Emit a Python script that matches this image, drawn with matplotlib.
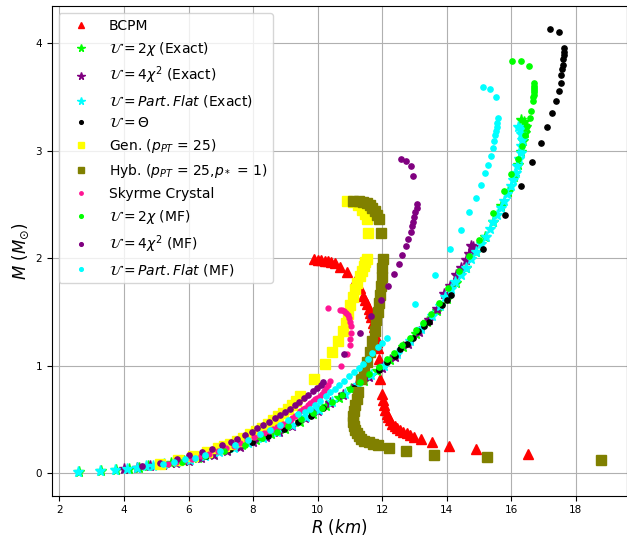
import matplotlib
matplotlib.use("Agg")
from matplotlib import pyplot as plt

# BCPM
bcpm_R = [16.52, 14.90, 14.07, 13.56, 13.22, 12.99, 12.86, 12.76, 12.66, 12.56,
          12.47, 12.39, 12.32, 12.25, 12.19, 12.14, 12.09, 12.05, 12.02, 11.99,
          11.95, 11.90, 11.87, 11.84, 11.81, 11.78, 11.75, 11.71, 11.67, 11.63,
          11.58, 11.53, 11.47, 11.41, 11.30, 11.15, 10.90, 10.69, 10.54, 10.43,
          10.33, 10.23, 10.12, 10.02, 9.89]
bcpm_M = [0.18, 0.22, 0.25, 0.29, 0.32, 0.34, 0.355, 0.37, 0.385, 0.40,
          0.42, 0.44, 0.46, 0.49, 0.52, 0.55, 0.59, 0.63, 0.68, 0.74,
          0.88, 1.06, 1.16, 1.22, 1.27, 1.32, 1.36, 1.40, 1.45, 1.49,
          1.53, 1.57, 1.61, 1.65, 1.72, 1.79, 1.87, 1.92, 1.95, 1.96,
          1.97, 1.975, 1.98, 1.98, 1.99]

# U = 2chi (Exact)
ex2_R = [2.60, 3.30, 3.75, 4.15, 4.45, 4.75, 5.05, 5.45, 5.85, 6.30,
         6.75, 7.20, 7.65, 8.10, 8.55, 9.00, 9.45, 9.85, 10.25, 10.65,
         11.05, 11.45, 11.85, 12.25, 12.65, 13.05, 13.40, 13.70, 14.00, 14.30,
         14.60, 14.90, 15.20, 15.45, 15.70, 15.90, 16.08, 16.20, 16.30, 16.38,
         16.42, 16.45, 16.40, 16.32]
ex2_M = [0.01, 0.02, 0.03, 0.04, 0.05, 0.065, 0.075, 0.09, 0.11, 0.14,
         0.175, 0.215, 0.26, 0.305, 0.36, 0.41, 0.48, 0.55, 0.62, 0.70,
         0.78, 0.86, 0.95, 1.05, 1.17, 1.29, 1.41, 1.51, 1.62, 1.77,
         1.91, 2.06, 2.20, 2.34, 2.48, 2.61, 2.75, 2.87, 2.99, 3.09,
         3.16, 3.22, 3.27, 3.28]

# U = 4chi^2 (Exact)
ex4_R = [4.00, 4.40, 4.80, 5.20, 5.60, 6.00, 6.40, 6.80, 7.20, 7.60,
         8.00, 8.40, 8.80, 9.20, 9.60, 10.00, 10.40, 10.80, 11.20, 11.60,
         12.00, 12.40, 12.80, 13.15, 13.45, 13.70, 13.91, 14.10, 14.30, 14.46,
         14.59, 14.69, 14.77, 14.82]
ex4_M = [0.035, 0.05, 0.065, 0.08, 0.095, 0.115, 0.14, 0.17, 0.205, 0.245,
         0.29, 0.335, 0.385, 0.44, 0.51, 0.575, 0.65, 0.73, 0.81, 0.89,
         0.98, 1.08, 1.20, 1.31, 1.42, 1.53, 1.67, 1.74, 1.84, 1.91,
         1.98, 2.04, 2.115, 2.10]

# U = Part.Flat (Exact)
expf_R = [2.57, 3.26, 3.72, 4.10, 4.41, 4.68, 4.91, 5.25, 5.65, 6.05,
          6.50, 6.95, 7.40, 7.85, 8.30, 8.75, 9.20, 9.65, 10.05, 10.45,
          10.85, 11.25, 11.65, 12.05, 12.45, 12.85, 13.20, 13.55, 13.80, 13.95,
          14.12, 14.27, 14.44, 14.59, 14.75, 14.90, 15.06, 15.21, 15.33, 15.44,
          15.56, 15.68, 15.78, 15.88, 15.98, 16.06, 16.14, 16.19, 16.24, 16.29,
          16.32, 16.35, 16.32, 16.28, 16.22]
expf_M = [0.01, 0.02, 0.03, 0.04, 0.05, 0.065, 0.07, 0.085, 0.10, 0.12,
          0.155, 0.195, 0.235, 0.28, 0.33, 0.385, 0.445, 0.52, 0.585, 0.66,
          0.74, 0.82, 0.91, 1.00, 1.11, 1.23, 1.34, 1.46, 1.55, 1.64,
          1.71, 1.775, 1.84, 1.91, 1.99, 2.06, 2.13, 2.20, 2.27, 2.34,
          2.40, 2.47, 2.53, 2.60, 2.67, 2.73, 2.79, 2.86, 2.92, 2.98,
          3.04, 3.10, 3.15, 3.20, 3.22]

# U = Theta
th_R = [5.79, 6.55, 7.28, 7.96, 8.47, 8.96, 9.40, 9.81, 10.17, 10.77,
        11.12, 11.41, 11.91, 12.15, 12.39, 12.57, 12.76, 12.96, 13.11, 13.29,
        13.46, 13.87, 14.00, 14.13, 15.13, 15.82, 16.29, 16.66, 16.92, 17.12,
        17.28, 17.38, 17.47, 17.53, 17.56, 17.59, 17.61, 17.62, 17.63, 17.64,
        17.64, 17.47, 17.20]
th_M = [0.117, 0.16, 0.226, 0.288, 0.344, 0.41, 0.475, 0.535, 0.605, 0.73,
        0.79, 0.86, 0.96, 1.03, 1.09, 1.155, 1.20, 1.26, 1.32, 1.37,
        1.41, 1.56, 1.61, 1.66, 2.08, 2.40, 2.67, 2.89, 3.07, 3.22,
        3.35, 3.46, 3.55, 3.63, 3.70, 3.76, 3.80, 3.85, 3.89, 3.92,
        3.95, 4.10, 4.13]

# Gen. (p_PT = 25)
gen_R = [5.12, 5.68, 6.15, 6.56, 6.90, 7.10, 7.30, 7.50, 7.70, 7.90,
         8.10, 8.28, 8.45, 8.62, 8.78, 8.93, 9.07, 9.20, 9.32, 9.45,
         9.90, 10.23, 10.46, 10.64, 10.79, 10.88, 10.95, 11.02, 11.09, 11.16,
         11.23, 11.30, 11.37, 11.43, 11.48, 11.52, 11.57, 11.52, 11.46, 11.38,
         11.25, 11.10, 10.90]
gen_M = [0.085, 0.125, 0.16, 0.195, 0.23, 0.25, 0.275, 0.30, 0.33, 0.36,
         0.39, 0.42, 0.46, 0.49, 0.53, 0.56, 0.60, 0.63, 0.67, 0.72,
         0.875, 1.015, 1.13, 1.23, 1.325, 1.40, 1.48, 1.56, 1.64, 1.71,
         1.77, 1.83, 1.88, 1.93, 1.96, 1.99, 2.23, 2.36, 2.41, 2.45,
         2.49, 2.52, 2.53]

# Hyb. (p_PT = 25, p* = 1)
hyb_R = [18.79, 15.25, 13.61, 12.73, 12.21, 11.88, 11.72, 11.58, 11.45, 11.35,
         11.27, 11.21, 11.16, 11.12, 11.10, 11.10, 11.12, 11.16, 11.21, 11.26,
         11.36, 11.44, 11.53, 11.62, 11.70, 11.77, 11.82, 11.86, 11.90, 11.93,
         11.96, 11.99, 12.01, 12.03, 11.98, 11.90, 11.83, 11.77, 11.70, 11.62,
         11.52, 11.41, 11.28, 11.10]
hyb_M = [0.124, 0.149, 0.173, 0.205, 0.232, 0.257, 0.27, 0.285, 0.30, 0.32,
         0.345, 0.37, 0.40, 0.44, 0.48, 0.53, 0.58, 0.63, 0.69, 0.75,
         0.875, 0.95, 1.03, 1.125, 1.23, 1.325, 1.42, 1.50, 1.58, 1.66,
         1.74, 1.82, 1.91, 1.99, 2.23, 2.36, 2.40, 2.44, 2.47, 2.49,
         2.51, 2.52, 2.53, 2.53]

# Skyrme Crystal
sky_R = [5.37, 5.60, 5.85, 6.10, 6.40, 6.64, 6.90, 7.15, 7.40, 7.60,
         7.80, 8.04, 8.20, 8.35, 8.50, 8.62, 8.73, 8.84, 8.94, 9.04,
         9.13, 9.22, 9.30, 9.38, 9.46, 9.54, 9.62, 9.70, 9.78, 9.85,
         9.92, 9.99, 10.06, 10.13, 10.20, 10.27, 10.33, 10.38, 10.72, 10.90,
         11.00, 11.02, 11.05, 11.05, 11.02, 10.98, 10.93, 10.87, 10.81, 10.75,
         10.69, 10.33]
sky_M = [0.085, 0.10, 0.115, 0.135, 0.16, 0.18, 0.205, 0.23, 0.255, 0.28,
         0.305, 0.335, 0.355, 0.375, 0.395, 0.41, 0.425, 0.44, 0.455, 0.47,
         0.49, 0.51, 0.53, 0.55, 0.575, 0.595, 0.61, 0.63, 0.65, 0.67,
         0.685, 0.70, 0.72, 0.74, 0.765, 0.79, 0.82, 0.86, 1.00, 1.11,
         1.19, 1.25, 1.30, 1.37, 1.41, 1.44, 1.47, 1.49, 1.505, 1.515,
         1.52, 1.54]

# U = 2chi (MF)
mf2_R = [5.79, 6.51, 7.10, 7.75, 8.27, 8.73, 9.09, 9.50, 9.86, 10.15,
         10.46, 10.75, 11.00, 11.30, 11.60, 11.90, 12.15, 12.37, 12.62, 12.85,
         13.05, 13.27, 13.50, 13.75, 14.05, 14.38, 14.70, 15.00, 15.44, 15.77,
         16.00, 16.21, 16.33, 16.42, 16.49, 16.57, 16.62, 16.67, 16.69, 16.70,
         16.71, 16.71, 16.72, 16.72, 16.72, 16.54, 16.29, 16.04]
mf2_M = [0.10, 0.155, 0.21, 0.265, 0.325, 0.385, 0.44, 0.50, 0.56, 0.61,
         0.665, 0.725, 0.785, 0.85, 0.92, 0.99, 1.06, 1.12, 1.19, 1.26,
         1.33, 1.40, 1.48, 1.58, 1.72, 1.88, 2.02, 2.17, 2.42, 2.62,
         2.78, 2.92, 3.04, 3.14, 3.23, 3.30, 3.37, 3.46, 3.50, 3.52,
         3.54, 3.56, 3.58, 3.60, 3.63, 3.79, 3.83, 3.83]

# U = 4chi^2 (MF)
mf4_R = [4.55, 5.12, 5.63, 6.02, 6.41, 6.72, 7.03, 7.31, 7.51, 7.75,
         7.96, 8.13, 8.32, 8.50, 8.68, 8.83, 8.99, 9.14, 9.30, 9.43,
         9.58, 9.71, 9.85, 9.97, 10.10, 10.17, 10.82, 11.31, 11.67, 11.98,
         12.19, 12.37, 12.52, 12.63, 12.73, 12.81, 12.88, 12.93, 12.96, 12.99,
         13.03, 13.07, 13.08, 12.97, 12.88, 12.73, 12.58]
mf4_M = [0.065, 0.096, 0.133, 0.164, 0.195, 0.226, 0.257, 0.288, 0.319, 0.356,
         0.387, 0.418, 0.449, 0.48, 0.51, 0.54, 0.57, 0.60, 0.635, 0.665,
         0.70, 0.73, 0.76, 0.79, 0.82, 0.845, 1.11, 1.30, 1.465, 1.61,
         1.74, 1.85, 1.945, 2.03, 2.11, 2.18, 2.24, 2.295, 2.34, 2.385,
         2.425, 2.465, 2.50, 2.76, 2.86, 2.90, 2.92]

# U = Part.Flat (MF)
mfpf_R = [5.22, 5.55, 5.89, 6.20, 6.51, 6.97, 7.44, 7.85, 8.21, 8.52,
          8.83, 9.09, 9.40, 9.61, 9.76, 9.92, 10.09, 10.26, 10.40, 10.54,
          10.67, 10.82, 10.98, 11.12, 11.28, 11.41, 11.57, 11.70, 11.86, 12.01,
          12.16, 13.01, 13.63, 14.10, 14.44, 14.70, 14.90, 15.06, 15.19, 15.29,
          15.37, 15.44, 15.47, 15.51, 15.54, 15.56, 15.57, 15.59, 15.52, 15.33,
          15.13]
mfpf_M = [0.086, 0.105, 0.13, 0.145, 0.164, 0.21, 0.263, 0.31, 0.365, 0.405,
          0.45, 0.495, 0.55, 0.565, 0.60, 0.635, 0.675, 0.715, 0.75, 0.78,
          0.82, 0.86, 0.90, 0.94, 0.975, 1.015, 1.06, 1.12, 1.17, 1.21,
          1.255, 1.575, 1.84, 2.08, 2.26, 2.43, 2.56, 2.68, 2.79, 2.87,
          2.95, 3.02, 3.09, 3.14, 3.18, 3.22, 3.26, 3.30, 3.50, 3.57,
          3.59]

fig = plt.figure(figsize=(6.27, 5.38), dpi=100)
ax = fig.add_axes([0.0825, 0.0786, 0.918, 0.9094])

ax.plot(bcpm_R, bcpm_M, ls='none', marker='^', ms=7, color='red', label='BCPM')
ax.plot(ex2_R, ex2_M, ls='none', marker='*', ms=8, color='lime',
        label=r'$\mathcal{U}=2\chi$ (Exact)')
ax.plot(ex4_R, ex4_M, ls='none', marker='*', ms=8, color='purple',
        label=r'$\mathcal{U}=4\chi^2$ (Exact)')
ax.plot(expf_R, expf_M, ls='none', marker='*', ms=8, color='cyan',
        label=r'$\mathcal{U}=Part.Flat$ (Exact)')
ax.plot(th_R, th_M, ls='none', marker='o', ms=3.8, color='black',
        label=r'$\mathcal{U}=\Theta$')
ax.plot(gen_R, gen_M, ls='none', marker='s', ms=6.5, color='yellow',
        label=r'Gen. ($p_{PT}$ = 25)')
ax.plot(hyb_R, hyb_M, ls='none', marker='s', ms=6.5, color='olive',
        label=r'Hyb. ($p_{PT}$ = 25,$p_*$ = 1)')
ax.plot(sky_R, sky_M, ls='none', marker='o', ms=3.5, color='deeppink',
        label='Skyrme Crystal')
ax.plot(mf2_R, mf2_M, ls='none', marker='o', ms=3.8, color='lime',
        label=r'$\mathcal{U}=2\chi$ (MF)')
ax.plot(mf4_R, mf4_M, ls='none', marker='o', ms=3.8, color='purple',
        label=r'$\mathcal{U}=4\chi^2$ (MF)')
ax.plot(mfpf_R, mfpf_M, ls='none', marker='o', ms=3.8, color='cyan',
        label=r'$\mathcal{U}=Part.Flat$ (MF)')

ax.set_xlim(1.76, 19.6)
ax.set_ylim(-0.21, 4.34)
ax.set_xticks([2, 4, 6, 8, 10, 12, 14, 16, 18])
ax.set_yticks([0, 1, 2, 3, 4])
ax.tick_params(labelsize=7.5)
ax.grid()
ax.set_xlabel(r'$R\ (km)$', fontsize=12, labelpad=1)
ax.set_ylabel(r'$M\ (M_{\odot})$', fontsize=12, labelpad=3)
ax.legend(loc='upper left', fontsize=10, markerscale=0.7, handlelength=2.4)

fig.savefig('out.png', dpi=100)
